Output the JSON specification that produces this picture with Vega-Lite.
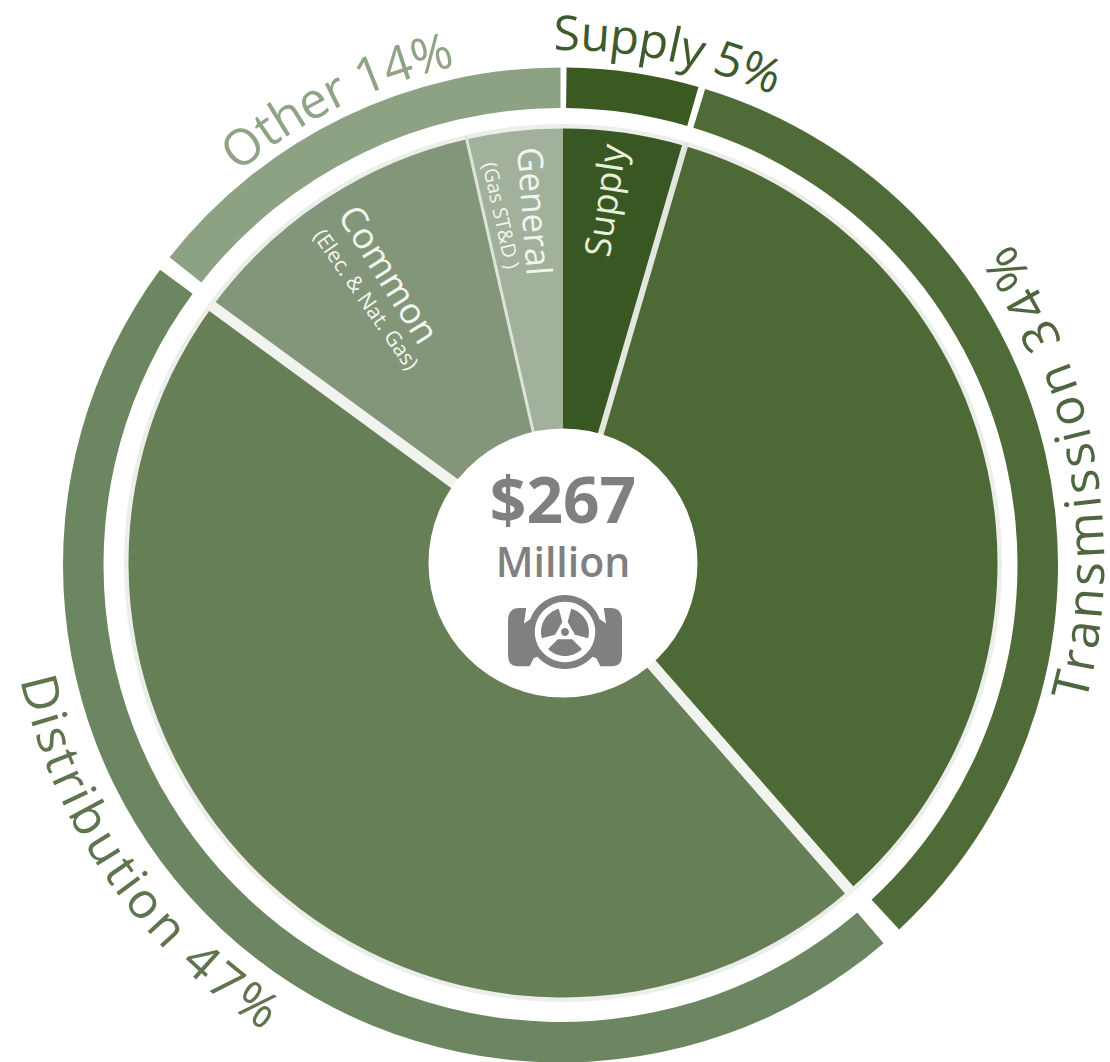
{
"$schema":"https://vega.github.io/schema/vega-lite/v6.json",
"width":998,"height":998,
"autosize":{"type":"none"},
"padding":{"left":64,"top":64,"right":48,"bottom":0},
"background":"white",
"config":{"view":{"stroke":null}},
"datasets":{
"ring":[
{"name":"Supply","start":0.7,"end":16.1},
{"name":"Transmission","start":16.9,"end":137.1},
{"name":"Distribution","start":139.5,"end":306.4},
{"name":"Other","start":308.2,"end":360}],
"pie":[
{"name":"Supply","start":0,"end":16.3},
{"name":"Transmission","start":16.3,"end":138.8},
{"name":"Distribution","start":138.8,"end":306.2},
{"name":"Common","start":306.2,"end":347.2},
{"name":"General","start":347.2,"end":360}],
"letters":[
{"label":"Supply 5%","ch":"S","theta":0.4,"r":527},{"label":"Supply 5%","ch":"u","theta":3.5,"r":527},{"label":"Supply 5%","ch":"p","theta":6.7,"r":527},{"label":"Supply 5%","ch":"p","theta":9.9,"r":527},{"label":"Supply 5%","ch":"l","theta":12.2,"r":527},{"label":"Supply 5%","ch":"y","theta":14.2,"r":527},{"label":"Supply 5%","ch":"5","theta":18.3,"r":527},{"label":"Supply 5%","ch":"%","theta":22.0,"r":527},
{"label":"Other 14%","ch":"O","theta":322.4,"r":523},{"label":"Other 14%","ch":"t","theta":325.6,"r":523},{"label":"Other 14%","ch":"h","theta":328.3,"r":523},{"label":"Other 14%","ch":"e","theta":331.5,"r":523},{"label":"Other 14%","ch":"r","theta":334.2,"r":523},{"label":"Other 14%","ch":"1","theta":338.4,"r":523},{"label":"Other 14%","ch":"4","theta":341.6,"r":523},{"label":"Other 14%","ch":"%","theta":345.5,"r":523}],
"lowLetters":[
{"label":"Transmission 34%","ch":"T","theta":103.5,"r":526},{"label":"Transmission 34%","ch":"r","theta":100.7,"r":526},{"label":"Transmission 34%","ch":"a","theta":97.8,"r":526},{"label":"Transmission 34%","ch":"n","theta":94.4,"r":526},{"label":"Transmission 34%","ch":"s","theta":91.2,"r":526},{"label":"Transmission 34%","ch":"m","theta":87.0,"r":526},{"label":"Transmission 34%","ch":"i","theta":83.4,"r":526},{"label":"Transmission 34%","ch":"s","theta":81.1,"r":527},{"label":"Transmission 34%","ch":"s","theta":78.2,"r":527},{"label":"Transmission 34%","ch":"i","theta":76.0,"r":528},{"label":"Transmission 34%","ch":"o","theta":73.3,"r":528},{"label":"Transmission 34%","ch":"n","theta":69.7,"r":529},{"label":"Transmission 34%","ch":"3","theta":64.6,"r":531},{"label":"Transmission 34%","ch":"4","theta":60.9,"r":533},{"label":"Transmission 34%","ch":"%","theta":56.5,"r":535},
{"label":"Distribution 47%","ch":"D","theta":256.0,"r":540},{"label":"Distribution 47%","ch":"i","theta":253.1,"r":540},{"label":"Distribution 47%","ch":"s","theta":250.9,"r":540},{"label":"Distribution 47%","ch":"t","theta":248.5,"r":540},{"label":"Distribution 47%","ch":"r","theta":246.2,"r":540},{"label":"Distribution 47%","ch":"i","theta":244.3,"r":540},{"label":"Distribution 47%","ch":"b","theta":241.7,"r":540},{"label":"Distribution 47%","ch":"u","theta":238.1,"r":540},{"label":"Distribution 47%","ch":"t","theta":235.2,"r":540},{"label":"Distribution 47%","ch":"i","theta":233.4,"r":540},{"label":"Distribution 47%","ch":"o","theta":230.9,"r":540},{"label":"Distribution 47%","ch":"n","theta":227.3,"r":540},{"label":"Distribution 47%","ch":"4","theta":222.2,"r":540},{"label":"Distribution 47%","ch":"7","theta":218.8,"r":540},{"label":"Distribution 47%","ch":"%","theta":214.7,"r":540}]
},
"layer":[
{"data":{"values":[{"start":0,"end":360}]},"mark":{"type":"arc","radius":439,"radius2":130,"fill":"#eceeea"},"encoding":{"theta":{"field":"start","type":"quantitative","scale":{"domain":[0,360],"range":[0,6.283185307]}},"theta2":{"field":"end"}}},
{"data":{"name":"ring"},"mark":{"type":"arc","radius":497.5,"radius2":457,"xOffset":-2.5,"yOffset":2},"encoding":{"theta":{"field":"start","type":"quantitative","scale":{"domain":[0,360],"range":[0,6.283185307]}},"theta2":{"field":"end"},"color":{"field":"name","type":"nominal","legend":null,"scale":{"domain":["Supply","Transmission","Distribution","Other"],"range":["#3a5a22","#4f6b38","#6b8660","#8da283"]}}}},
{"data":{"name":"pie"},"mark":{"type":"arc","radius":434.5,"radius2":130},"encoding":{"theta":{"field":"start","type":"quantitative","scale":{"domain":[0,360],"range":[0,6.283185307]}},"theta2":{"field":"end"},"color":{"field":"name","type":"nominal","legend":null,"scale":{"domain":["Supply","Transmission","Distribution","Common","General"],"range":["#385723","#4d6a36","#677f57","#84967a","#a2b19c"]}}}},
{"data":{"values":[{"at":16.3}]},"mark":{"type":"arc","radius":438,"radius2":130,"fill":null,"stroke":"#e3e7de","strokeWidth":6},"encoding":{"theta":{"field":"at","type":"quantitative","scale":{"domain":[0,360],"range":[0,6.283185307]}},"theta2":{"field":"at"}}},
{"data":{"values":[{"at":138.8},{"at":306.2}]},"mark":{"type":"arc","radius":438,"radius2":130,"fill":null,"stroke":"#f1f3ee","strokeWidth":11},"encoding":{"theta":{"field":"at","type":"quantitative","scale":{"domain":[0,360],"range":[0,6.283185307]}},"theta2":{"field":"at"}}},
{"data":{"values":[{"at":347.2}]},"mark":{"type":"arc","radius":438,"radius2":130,"fill":null,"stroke":"#dfe4d8","strokeWidth":3},"encoding":{"theta":{"field":"at","type":"quantitative","scale":{"domain":[0,360],"range":[0,6.283185307]}},"theta2":{"field":"at"}}},
{"data":{"values":[{"start":0,"end":360}]},"mark":{"type":"arc","radius":134.5,"radius2":0,"fill":"#ffffff"},"encoding":{"theta":{"field":"start","type":"quantitative","scale":{"domain":[0,360],"range":[0,6.283185307]}},"theta2":{"field":"end"}}},
{"data":{"name":"letters"},"transform":[{"filter":"datum.label==='Supply 5%'"}],"mark":{"type":"text","font":"Open Sans","fontSize":48,"color":"#3f5a2b","align":"center","baseline":"middle"},"encoding":{"text":{"field":"ch"},"theta":{"field":"theta","type":"quantitative","scale":{"domain":[0,360],"range":[0,6.283185307]}},"radius":{"field":"r","type":"quantitative","scale":{"domain":[0,600],"range":[0,600]}},"angle":{"field":"theta","type":"quantitative","legend":null,"scale":{"domain":[0,360],"range":[0,360]}}}},
{"data":{"name":"letters"},"transform":[{"filter":"datum.label==='Other 14%'"}],"mark":{"type":"text","font":"Open Sans","fontSize":50,"color":"#8fa386","align":"center","baseline":"middle"},"encoding":{"text":{"field":"ch"},"theta":{"field":"theta","type":"quantitative","scale":{"domain":[0,360],"range":[0,6.283185307]}},"radius":{"field":"r","type":"quantitative","scale":{"domain":[0,600],"range":[0,600]}},"angle":{"field":"theta","type":"quantitative","legend":null,"scale":{"domain":[0,360],"range":[0,360]}}}},
{"data":{"name":"lowLetters"},"transform":[{"filter":"datum.label==='Transmission 34%'"}],"mark":{"type":"text","font":"Open Sans","fontSize":50,"color":"#4f6740","align":"center","baseline":"middle"},"encoding":{"text":{"field":"ch"},"theta":{"field":"theta","type":"quantitative","scale":{"domain":[0,360],"range":[0,6.283185307]}},"radius":{"field":"r","type":"quantitative","scale":{"domain":[0,600],"range":[0,600]}},"angle":{"field":"theta","type":"quantitative","legend":null,"scale":{"domain":[0,360],"range":[180,540]}}}},
{"data":{"name":"lowLetters"},"transform":[{"filter":"datum.label==='Distribution 47%'"}],"mark":{"type":"text","font":"Open Sans","fontSize":50,"color":"#5e7550","align":"center","baseline":"middle"},"encoding":{"text":{"field":"ch"},"theta":{"field":"theta","type":"quantitative","scale":{"domain":[0,360],"range":[0,6.283185307]}},"radius":{"field":"r","type":"quantitative","scale":{"domain":[0,600],"range":[0,600]}},"angle":{"field":"theta","type":"quantitative","legend":null,"scale":{"domain":[0,360],"range":[-180,180]}}}},
{"data":{"values":[{"t":"Supply","theta":6.9,"r":365}]},"mark":{"type":"text","font":"Open Sans","fontSize":36,"angle":278.5,"color":"#e8f0da","align":"center","baseline":"middle"},"encoding":{"text":{"field":"t"},"theta":{"field":"theta","type":"quantitative","scale":{"domain":[0,360],"range":[0,6.283185307]}},"radius":{"field":"r","type":"quantitative","scale":{"domain":[0,600],"range":[0,600]}}}},
{"data":{"values":[{"t":"General","theta":355.1,"r":353}]},"mark":{"type":"text","font":"Open Sans","fontSize":35,"angle":85.6,"color":"#f2f5ee","align":"center","baseline":"middle"},"encoding":{"text":{"field":"t"},"theta":{"field":"theta","type":"quantitative","scale":{"domain":[0,360],"range":[0,6.283185307]}},"radius":{"field":"r","type":"quantitative","scale":{"domain":[0,600],"range":[0,600]}}}},
{"data":{"values":[{"t":"(Gas ST&D )","theta":349.7,"r":353}]},"mark":{"type":"text","font":"Open Sans","fontSize":20,"angle":77.5,"color":"#f2f5ee","align":"center","baseline":"middle"},"encoding":{"text":{"field":"t"},"theta":{"field":"theta","type":"quantitative","scale":{"domain":[0,360],"range":[0,6.283185307]}},"radius":{"field":"r","type":"quantitative","scale":{"domain":[0,600],"range":[0,600]}}}},
{"data":{"values":[{"t":"Common","theta":328.6,"r":337}]},"mark":{"type":"text","font":"Open Sans","fontSize":36,"angle":58,"color":"#f4f6f0","align":"center","baseline":"middle"},"encoding":{"text":{"field":"t"},"theta":{"field":"theta","type":"quantitative","scale":{"domain":[0,360],"range":[0,6.283185307]}},"radius":{"field":"r","type":"quantitative","scale":{"domain":[0,600],"range":[0,600]}}}},
{"data":{"values":[{"t":"(Elec. & Nat. Gas)","theta":323,"r":329}]},"mark":{"type":"text","font":"Open Sans","fontSize":21,"angle":55,"color":"#f4f6f0","align":"center","baseline":"middle"},"encoding":{"text":{"field":"t"},"theta":{"field":"theta","type":"quantitative","scale":{"domain":[0,360],"range":[0,6.283185307]}},"radius":{"field":"r","type":"quantitative","scale":{"domain":[0,600],"range":[0,600]}}}},
{"data":{"values":[{"t":"$267","theta":0,"r":59}]},"mark":{"type":"text","font":"Open Sans","fontSize":64,"fontWeight":"bold","color":"#808080","align":"center","baseline":"middle"},"encoding":{"text":{"field":"t"},"theta":{"field":"theta","type":"quantitative","scale":{"domain":[0,360],"range":[0,6.283185307]}},"radius":{"field":"r","type":"quantitative","scale":{"domain":[0,600],"range":[0,600]}}}},
{"data":{"values":[{"t":"Million","theta":180,"r":2}]},"mark":{"type":"text","font":"Open Sans","fontSize":41,"fontWeight":600,"color":"#808080","align":"center","baseline":"middle"},"encoding":{"text":{"field":"t"},"theta":{"field":"theta","type":"quantitative","scale":{"domain":[0,360],"range":[0,6.283185307]}},"radius":{"field":"r","type":"quantitative","scale":{"domain":[0,600],"range":[0,600]}}}},
{"data":{"values":[{"ix":2,"iy":-69}]},"mark":{"type":"point","filled":true,"opacity":1,"size":12996,"color":"#808080","shape":"M-1,-.2 Q-1,-.42 -.8,-.42 L-.68,-.42 L-.72,-.15 L-.5,-.3 L-.4,.4 L-.55,.46 L-.62,.6 L-.85,.6 Q-1,.6 -1,.4 Z M1,-.2 L1,.4 Q1,.6 .85,.6 L.62,.6 L.55,.46 L.4,.4 L.5,-.3 L.72,-.15 L.68,-.42 L.8,-.42 Q1,-.42 1,-.2 Z M-.65,0 A.65,.65 0 1,1 .65,0 A.65,.65 0 1,1 -.65,0 Z"},"encoding":{"x":{"field":"ix","type":"quantitative","axis":null,"scale":{"domain":[-499,499],"range":[0,998]}},"y":{"field":"iy","type":"quantitative","axis":null,"scale":{"domain":[-499,499],"range":[998,0]}}}},
{"data":{"values":[{"ix":2,"iy":-69}]},"mark":{"type":"point","filled":true,"opacity":1,"size":12996,"color":"#ffffff","shape":"M-.53,0 A.53,.53 0 1,1 .53,0 A.53,.53 0 1,1 -.53,0 Z"},"encoding":{"x":{"field":"ix","type":"quantitative","axis":null,"scale":{"domain":[-499,499],"range":[0,998]}},"y":{"field":"iy","type":"quantitative","axis":null,"scale":{"domain":[-499,499],"range":[998,0]}}}},
{"data":{"values":[{"ix":2,"iy":-69}]},"mark":{"type":"point","filled":true,"opacity":1,"size":12996,"color":"#808080","shape":"M.109,-.406 A.42,.42 0 0,1 .406,.109 L.174,.047 L.047,-.174 Z M-.109,-.406 A.42,.42 0 0,0 -.406,.109 L-.174,.047 L-.047,-.174 Z M.297,.297 A.42,.42 0 0,1 -.297,.297 L-.127,.127 L.127,.127 Z M-.07,0 A.07,.07 0 1,1 .07,0 A.07,.07 0 1,1 -.07,0 Z"},"encoding":{"x":{"field":"ix","type":"quantitative","axis":null,"scale":{"domain":[-499,499],"range":[0,998]}},"y":{"field":"iy","type":"quantitative","axis":null,"scale":{"domain":[-499,499],"range":[998,0]}}}}
],
"resolve":{"scale":{"color":"independent","angle":"independent"}}
}
